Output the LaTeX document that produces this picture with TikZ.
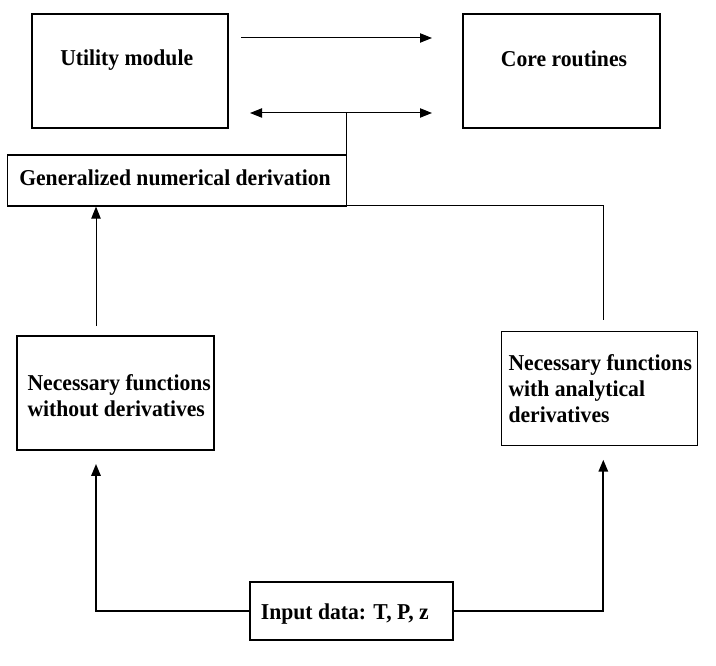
\documentclass[tikz,border=0pt]{standalone}
\usepackage{fontspec}
\setmainfont{Liberation Serif}[FakeStretch=0.955]
\usetikzlibrary{arrows.meta}
\begin{document}
\begin{tikzpicture}[x=0.75pt,y=-0.75pt,
  box/.style={draw, line width=0.9pt, inner sep=0pt},
  lbl/.style={inner sep=0pt, font=\fontsize{17}{19.6}\selectfont\bfseries},
  thin/.style={line width=0.75pt},
  thick/.style={line width=1.5pt},
  tip/.style={-{Triangle[length=9pt,width=7pt]}},
  dtip/.style={{Triangle[length=9pt,width=7pt]}-{Triangle[length=9pt,width=7pt]}}]
\useasboundingbox (0,0) rectangle (716,666);
% boxes
\node[box, minimum width=147pt, minimum height=85.5pt] (util) at (130,71) {};
\node[box, minimum width=147.75pt, minimum height=85.5pt] (core) at (561.5,71) {};
\node[box, minimum width=254.25pt, minimum height=38.25pt] (gen) at (177,180.5) {};
\node[box, minimum width=147.75pt, minimum height=85.5pt] (nfl) at (115.5,393) {};
\node[box, minimum width=147pt, minimum height=85.5pt] (nfr) at (599.25,388.75) {};
\node[box, minimum width=152.25pt, minimum height=43.5pt] (inp) at (351.5,611) {};
% labels
\node[lbl, anchor=base west] (utilt) at (60,66) {Utility module};
\node[lbl, anchor=base west] (coret) at (500.7,67) {Core routines};
\node[lbl, anchor=base west] (gent) at (19,186) {Generalized numerical derivation};
\node[lbl, anchor=north west, align=left] (nflt) at (27.3,371.8) {\strut Necessary functions\\\strut without derivatives};
\node[lbl, anchor=north west, align=left] (nfrt) at (508.3,351.8) {\strut Necessary functions\\\strut with analytical\\\strut derivatives};
\node[lbl, anchor=base west] (inpt) at (260.7,619.3) {Input data: T, P, z};
% top connectors
\coordinate (a1s) at (241,38);
\coordinate (a1e) at (432,38);
\coordinate (a2s) at (250,113);
\coordinate (a2e) at (432,113);
\coordinate (jn) at (346,113);
\coordinate (jb) at (346,206);
\coordinate (rc) at (603.3,206);
\coordinate (re) at (603.3,319.5);
\coordinate (ls) at (96,326);
\draw[thin, tip] (a1s) -- (a1e);
\draw[thin, dtip] (a2s) -- (a2e);
\draw[thin] (jn) -- (jb) -- (rc) -- (re);
\draw[thin, tip] (ls) -- (ls |- gen.south);
% input connectors
\draw[thick, tip] (inp.west) -| ([yshift=-10pt]nfl.south -| ls);
\draw[thick, tip] (inp.east) -| ([yshift=-10pt]nfr.south -| rc);
\end{tikzpicture}
\end{document}
